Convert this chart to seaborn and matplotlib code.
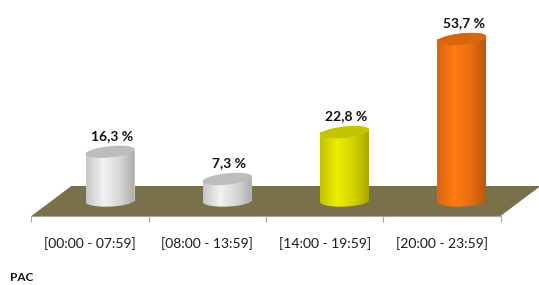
import numpy as np
import matplotlib
matplotlib.use("Agg")
import matplotlib.pyplot as plt
import seaborn as sns
import pandas as pd
from matplotlib.patches import Polygon, PathPatch
from matplotlib.path import Path
from matplotlib.colors import LinearSegmentedColormap, to_rgb

categories = ["[00:00 - 07:59]", "[08:00 - 13:59]", "[14:00 - 19:59]", "[20:00 - 23:59]"]
values = [16.3, 7.3, 22.8, 53.7]
value_labels = ["16,3 %", "7,3 %", "22,8 %", "53,7 %"]
body_colors = ["#dcdcdc", "#dcdcdc", "#d8d800", "#f07010"]
top_colors = ["#bdbdbd", "#bdbdbd", "#c4c400", "#d9650e"]
footer = "PAC"

sns.set_style("white")
plt.rcParams['font.family'] = ['Lato', 'DejaVu Sans']

W, H = 539, 285
fig = plt.figure(figsize=(W / 100, H / 100), dpi=100)
ax = fig.add_axes([0, 0, 1, 1])

# pixel scale of the data units
sx, sy = 117.3, 3.017          # px per category, px per percent
x_left_px, base_px = 110, 84   # px position of category 0 centre and of 0 %
xlim = (-x_left_px / sx, (W - x_left_px) / sx)
ylim = (-base_px / sy, (H - base_px) / sy)

df = pd.DataFrame({"cat": categories, "val": values})
bar_w = 49 / sx
sns.barplot(data=df, x="cat", y="val", hue="cat", palette=body_colors, legend=False,
            width=bar_w, ax=ax, linewidth=0, zorder=3)
bars = list(ax.patches)

# 3D depth offsets of the floor
dx, dy = 20 / sx, 15 / sy
floor = Polygon([(-0.5 - dx, -dy), (len(values) - 0.5 - dx, -dy),
                 (len(values) - 0.5 + dx, dy), (-0.5 + dx, dy)],
                closed=True, facecolor="#7a7049", edgecolor="none", zorder=1)
ax.add_patch(floor)

a_px, b_px = 24.5, 5.6
t_bot = np.linspace(np.pi, 2 * np.pi, 60)
t_top = np.linspace(0, np.pi, 60)
t_full = np.linspace(0, 2 * np.pi, 120)


def ell(cx, cy, t, shear):
    xp = a_px * np.cos(t)
    yp = b_px * np.sin(t) + shear * xp
    return np.column_stack([cx + xp / sx, cy + yp / sy])


for i, patch in enumerate(bars):
    cx = patch.get_x() + patch.get_width() / 2
    h = patch.get_height()
    pts = np.vstack([ell(cx, 0, t_bot, 0.04), ell(cx, h, t_top, 0.1)])
    path = Path(np.vstack([pts, pts[:1]]), closed=True)
    sil = PathPatch(path, facecolor="none", edgecolor="none", transform=ax.transData)
    ax.add_patch(sil)
    base = np.array(to_rgb(body_colors[i]))
    cmap = LinearSegmentedColormap.from_list(
        "g", [(0, base * 0.9), (0.35, np.clip(base * 1.1, 0, 1)), (0.7, base * 0.97), (1, base * 0.78)])
    grad = np.linspace(0, 1, 200)[None, :]
    im = ax.imshow(grad, cmap=cmap, aspect="auto", interpolation="bilinear",
                   extent=[cx - bar_w / 2, cx + bar_w / 2, -b_px / sy * 2, h + b_px / sy * 2],
                   zorder=4)
    im.set_clip_path(sil)
    top = Polygon(ell(cx, h, t_full, 0.1), closed=True, facecolor=top_colors[i],
                  edgecolor="none", zorder=5)
    ax.add_patch(top)
    ax.text(cx + 2 / sx, h + 16 / sy, value_labels[i], ha="center", va="center",
            fontsize=10, fontweight="bold", color="#111111", zorder=6)

ax.set_xlim(*xlim)
ax.set_ylim(*ylim)

for s in ["top", "left", "right"]:
    ax.spines[s].set_visible(False)
ax.spines["bottom"].set_position(("data", -dy))
ax.spines["bottom"].set_bounds(-0.5 - dx, len(values) - 0.5 - dx)
ax.spines["bottom"].set_color("#a6a6a6")
ax.spines["bottom"].set_linewidth(0.8)
ax.set_xticks([k - 0.5 - dx for k in range(len(values) + 1)])
ax.set_xticklabels([])
ax.set_xticks([k - dx for k in range(len(values))], minor=True)
ax.set_xticklabels(categories, minor=True, fontsize=10, color="#1a1a1a")
ax.tick_params(axis="x", which="major", length=4.5, color="#a6a6a6", width=0.8, direction="out", bottom=True)
ax.tick_params(axis="x", which="minor", length=0, pad=15)
ax.set_yticks([])
ax.set_xlabel("")
ax.set_ylabel("")

fig.text(10 / W, 2 / H, footer, fontsize=8.5, fontweight="bold", ha="left", va="bottom", color="#111111")

fig.savefig("out.png", dpi=100)
